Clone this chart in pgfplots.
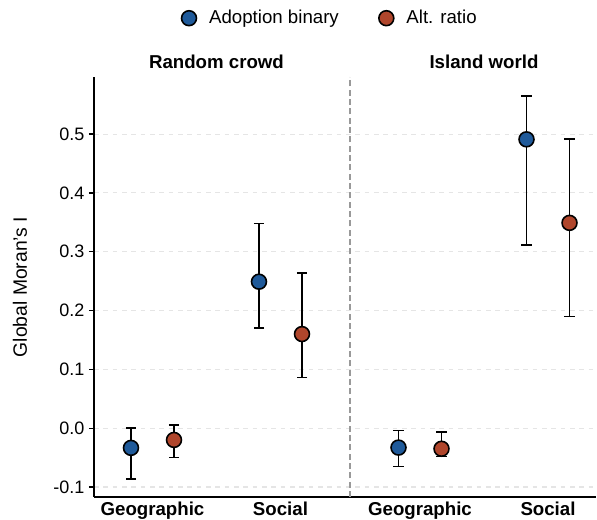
\documentclass[border=0pt]{standalone}
\usepackage{pgfplots}
\pgfplotsset{compat=1.18}
\usepackage{fontspec}
\setmainfont{Liberation Sans}
\definecolor{cblue}{HTML}{1F5A9A}
\definecolor{cred}{HTML}{B0462C}
\pgfplotsset{
  ebar/.style={only marks, mark=none, forget plot,
    error bars/.cd, y dir=both, y explicit,
    error bar style={line width=1.35pt, black},
    error mark options={rotate=90, mark size=3.8pt, line width=1.35pt, black}},
  dot/.style={only marks, mark=*, mark size=5.6pt, mark options={fill=#1, draw=black, line width=1.2pt}},
}
\begin{document}
\begin{tikzpicture}
\begin{axis}[
  scale only axis,
  width=376.5pt, height=315pt,
  xmin=-0.457, xmax=3.465,
  ymin=-0.117, ymax=0.597,
  axis x line*=bottom, axis y line*=left,
  axis line style={line width=1.1pt, black},
  xtick={0,1,2.09,3.09},
  xticklabels={Geographic,Social,Geographic,Social},
  xticklabel style={font=\bfseries\fontsize{14}{16}\selectfont, inner sep=0pt, yshift=0.5pt, anchor=north},
  major x tick style={draw=none},
  ytick={-0.1,0,0.1,0.2,0.3,0.4,0.5},
  yticklabel style={font=\fontsize{13.5}{15}\selectfont, /pgf/number format/.cd, fixed, fixed zerofill, precision=1, assume math mode=true},
  major y tick style={line width=1pt, black},
  tick align=outside, major tick length=3.75pt,
  ymajorgrids,
  y grid style={dash pattern=on 3.5pt off 3.5pt, gray!20, line width=0.8pt},
  ylabel={Global Moran's I},
  ylabel style={font=\fontsize{14.5}{17}\selectfont, at={(rel axis cs:0,0.5)}, anchor=center, yshift=55.5pt},
  legend style={at={(rel axis cs:0.471,1.14)}, anchor=center, draw=none, legend columns=2,
    font=\fontsize{14}{16}\selectfont,
    /tikz/every odd column/.append style={column sep=7.5pt},
    /tikz/every even column/.append style={column sep=28pt}},
  legend cell align=left,
  clip=false,
]
\addplot[ebar] coordinates {
  (-0.168,-0.0335) += (0,0.0335) -= (0,0.0535)
  (0.832,0.249) += (0,0.099) -= (0,0.079)
  (1.922,-0.033) += (0,0.029) -= (0,0.032)
  (2.922,0.491) += (0,0.074) -= (0,0.180)
};
\addplot[ebar] coordinates {
  (0.168,-0.020) += (0,0.025) -= (0,0.030)
  (1.168,0.160) += (0,0.104) -= (0,0.074)
  (2.258,-0.035) += (0,0.028) -= (0,0.013)
  (3.258,0.349) += (0,0.143) -= (0,0.159)
};
\addplot[dot=cblue] coordinates {
  (-0.168,-0.0335) (0.832,0.249) (1.922,-0.033) (2.922,0.491)
};
\addlegendentry{Adoption binary}
\addplot[dot=cred] coordinates {
  (0.168,-0.020) (1.168,0.160) (2.258,-0.035) (3.258,0.349)
};
\addlegendentry{Alt. ratio}
\draw[dash pattern=on 4.5pt off 2.5pt, gray!80, line width=1pt] (axis cs:1.543,-0.117) -- (axis cs:1.543,0.597);
\node[font=\bfseries\fontsize{14}{16}\selectfont] at (axis cs:0.5,0.597) [yshift=11.25pt] {Random crowd};
\node[font=\bfseries\fontsize{14}{16}\selectfont] at (axis cs:2.59,0.597) [yshift=11.25pt] {Island world};
\coordinate (BL) at (rel axis cs:0,0);
\coordinate (TR) at (rel axis cs:1,1);
\end{axis}
\pgfresetboundingbox
\path[use as bounding box] ([xshift=-70.5pt, yshift=-17.25pt]BL) rectangle ([xshift=0.75pt, yshift=57.75pt]TR);
\end{tikzpicture}
\end{document}
